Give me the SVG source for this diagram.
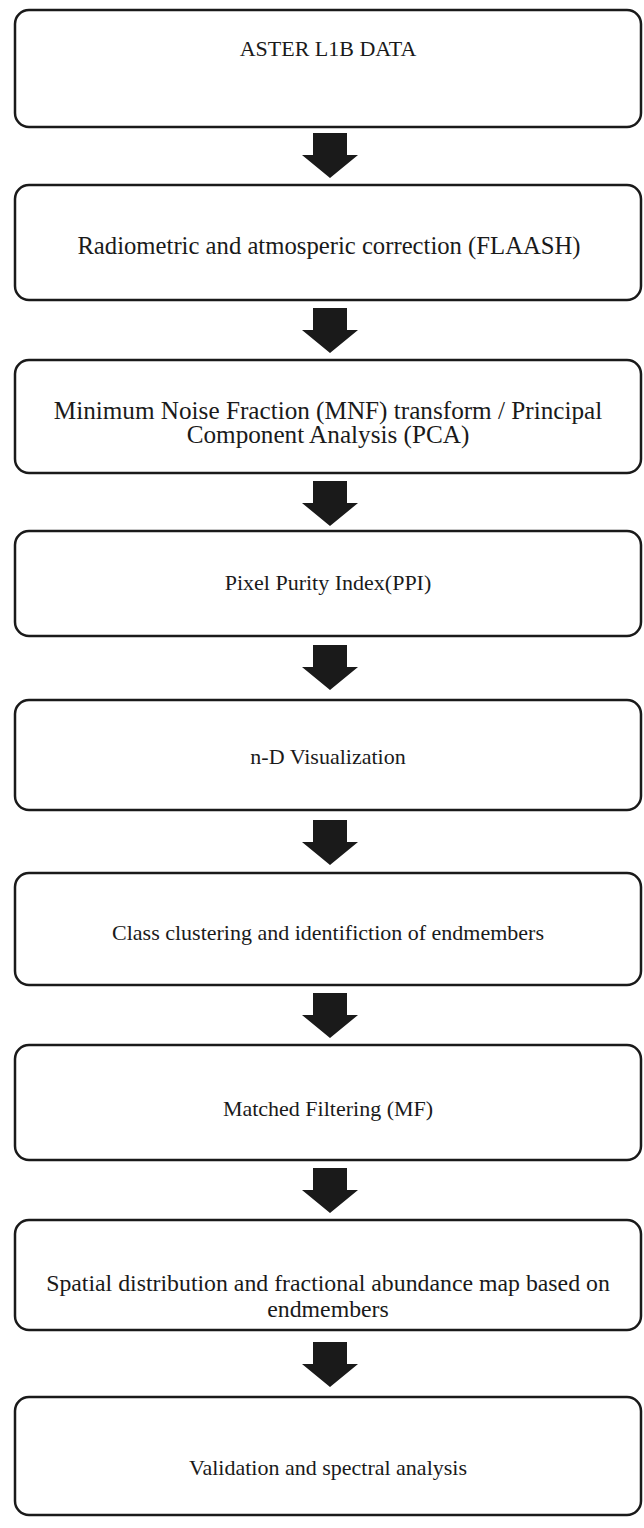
<svg xmlns="http://www.w3.org/2000/svg" width="644" height="1528" viewBox="0 0 644 1528">
<defs>
<style>
.box{fill:#fff;stroke:#1a1a1a;stroke-width:2.5}
.t{font-family:"Liberation Serif","Times New Roman",serif;font-size:22px;fill:#1a1a1a;text-anchor:middle;dominant-baseline:central}
.arr{fill:#1a1a1a}
</style>
<path id="a" d="M-17 0H17V22H28L0 45L-28 22H-17Z"/>
</defs>
<rect width="644" height="1528" fill="#fff"/>
<g id="connectors" class="arr">
<use href="#a" x="330" y="133"/>
<use href="#a" x="330" y="308"/>
<use href="#a" x="330" y="481"/>
<use href="#a" x="330" y="645"/>
<use href="#a" x="330" y="820"/>
<use href="#a" x="330" y="993"/>
<use href="#a" x="330" y="1168"/>
<use href="#a" x="330" y="1342"/>
</g>
<g id="n1"><rect class="box" x="15" y="10" width="626" height="117" rx="14"/><text class="t" x="328" y="48">ASTER L1B DATA</text></g>
<g id="n2"><rect class="box" x="15" y="185" width="626" height="115" rx="14"/><text class="t" x="329" y="245" style="font-size:24.7px">Radiometric and atmosperic correction (FLAASH)</text></g>
<g id="n3"><rect class="box" x="15" y="360" width="626" height="113" rx="14"/><text class="t" x="328" y="410" style="font-size:25.2px">Minimum Noise Fraction (MNF) transform / Principal</text><text class="t" x="328" y="434" style="font-size:25.2px">Component Analysis (PCA)</text></g>
<g id="n4"><rect class="box" x="15" y="531" width="626" height="105" rx="14"/><text class="t" x="328" y="582">Pixel Purity Index(PPI)</text></g>
<g id="n5"><rect class="box" x="15" y="700" width="626" height="110" rx="14"/><text class="t" x="328" y="756">n-D Visualization</text></g>
<g id="n6"><rect class="box" x="15" y="873" width="626" height="112" rx="14"/><text class="t" x="328" y="932">Class clustering and identifiction of endmembers</text></g>
<g id="n7"><rect class="box" x="15" y="1045" width="626" height="115" rx="14"/><text class="t" x="328" y="1108">Matched Filtering (MF)</text></g>
<g id="n8"><rect class="box" x="15" y="1220" width="626" height="110" rx="14"/><text class="t" x="328" y="1283" style="font-size:23.8px">Spatial distribution and fractional abundance map based on</text><text class="t" x="328" y="1309" style="font-size:23.8px">endmembers</text></g>
<g id="n9"><rect class="box" x="15" y="1397" width="626" height="118" rx="14"/><text class="t" x="328" y="1467">Validation and spectral analysis</text></g>
</svg>
